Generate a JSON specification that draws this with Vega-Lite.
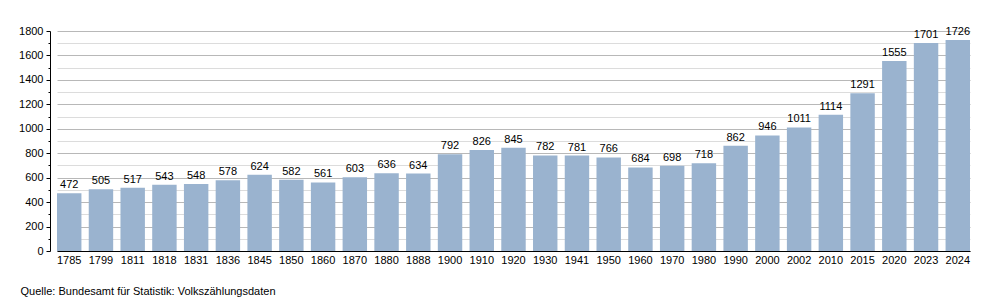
{
  "$schema": "https://vega.github.io/schema/vega-lite/v6.json",
  "width": 920,
  "height": 220,
  "autosize": {"type": "none"},
  "padding": {"left": 50, "top": 31, "right": 30, "bottom": 49},
  "background": "white",
  "config": {
    "view": {"stroke": null},
    "font": "Liberation Sans",
    "title": {"font": "Liberation Sans"}
  },
  "title": {
    "text": "Quelle: Bundesamt für Statistik: Volkszählungsdaten",
    "orient": "bottom",
    "anchor": "start",
    "frame": "bounds",
    "fontSize": 11,
    "fontWeight": "normal",
    "color": "#000",
    "offset": 21,
    "dx": 2
  },
  "data": {
    "values": [
      {"Jahr": "1785", "Einwohner": 472},
      {"Jahr": "1799", "Einwohner": 505},
      {"Jahr": "1811", "Einwohner": 517},
      {"Jahr": "1818", "Einwohner": 543},
      {"Jahr": "1831", "Einwohner": 548},
      {"Jahr": "1836", "Einwohner": 578},
      {"Jahr": "1845", "Einwohner": 624},
      {"Jahr": "1850", "Einwohner": 582},
      {"Jahr": "1860", "Einwohner": 561},
      {"Jahr": "1870", "Einwohner": 603},
      {"Jahr": "1880", "Einwohner": 636},
      {"Jahr": "1888", "Einwohner": 634},
      {"Jahr": "1900", "Einwohner": 792},
      {"Jahr": "1910", "Einwohner": 826},
      {"Jahr": "1920", "Einwohner": 845},
      {"Jahr": "1930", "Einwohner": 782},
      {"Jahr": "1941", "Einwohner": 781},
      {"Jahr": "1950", "Einwohner": 766},
      {"Jahr": "1960", "Einwohner": 684},
      {"Jahr": "1970", "Einwohner": 698},
      {"Jahr": "1980", "Einwohner": 718},
      {"Jahr": "1990", "Einwohner": 862},
      {"Jahr": "2000", "Einwohner": 946},
      {"Jahr": "2002", "Einwohner": 1011},
      {"Jahr": "2010", "Einwohner": 1114},
      {"Jahr": "2015", "Einwohner": 1291},
      {"Jahr": "2020", "Einwohner": 1555},
      {"Jahr": "2023", "Einwohner": 1701},
      {"Jahr": "2024", "Einwohner": 1726}
    ]
  },
  "encoding": {
    "x": {
      "field": "Jahr",
      "type": "ordinal",
      "sort": null,
      "scale": {"range": [7, 920], "paddingInner": 0.23, "paddingOuter": 0},
      "axis": {
        "title": null,
        "labelAngle": 0,
        "labelFontSize": 11,
        "labelColor": "#000",
        "labelPadding": 3,
        "ticks": false,
        "domainColor": "#000",
        "domainWidth": 1.2,
        "grid": false
      }
    },
    "y": {
      "field": "Einwohner",
      "type": "quantitative",
      "scale": {"domain": [0, 1800], "nice": false},
      "axis": {
        "title": null,
        "values": [0, 100, 200, 300, 400, 500, 600, 700, 800, 900, 1000, 1100, 1200, 1300, 1400, 1500, 1600, 1700, 1800],
        "labelExpr": "datum.value % 200 === 0 ? datum.label : ''",
        "format": "d",
        "labelFontSize": 11,
        "labelColor": "#000",
        "labelPadding": 3,
        "domainColor": "#000",
        "tickColor": "#000",
        "tickSize": {"condition": {"test": "datum.value % 200 === 0", "value": 4}, "value": 2},
        "grid": true,
        "gridColor": {"condition": {"test": "datum.value % 200 === 0", "value": "#b8b8b8"}, "value": "#dcdcdc"},
        "gridWidth": 1
      }
    }
  },
  "layer": [
    {
      "mark": {"type": "bar", "color": "#9ab3cf"}
    },
    {
      "mark": {"type": "text", "baseline": "bottom", "dy": -3, "fontSize": 11, "color": "#000"},
      "encoding": {"text": {"field": "Einwohner", "type": "quantitative"}}
    }
  ]
}
